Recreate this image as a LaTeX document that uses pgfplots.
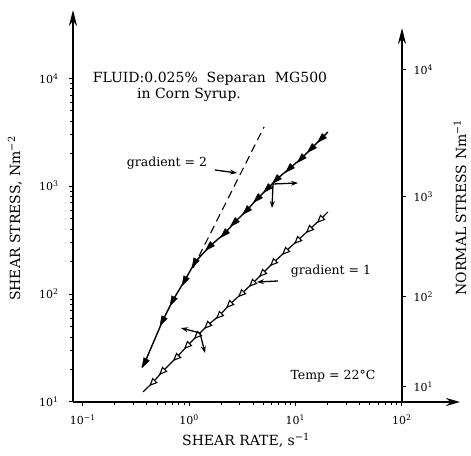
\documentclass[border=0pt]{standalone}
\usepackage{fontspec}
\setmainfont{DejaVu Serif}
\usepackage{pgfplots}
\pgfplotsset{compat=1.18}
\usetikzlibrary{arrows.meta}
\begin{document}
\begin{tikzpicture}
\path[use as bounding box] (-73pt,-53pt) rectangle (398pt,402pt);
\begin{axis}[
  at={(0,0)}, anchor=south west,
  scale only axis, width=387pt, height=392pt,
  xmode=log, ymode=log,
  xmin=0.0809, xmax=353.2,
  ymin=10, ymax=42950,
  axis lines=left,
  axis line style={line width=2pt},
  x axis line style={-{Stealth[length=14pt,width=8pt]}},
  y axis line style={-{Stealth[length=16pt,width=8pt]}},
  xtick={0.1,1,10,100},
  xticklabels={10\textsuperscript{−1},10\textsuperscript{0},10\textsuperscript{1},10\textsuperscript{2}},
  ytick={10,100,1000,10000},
  yticklabels={10\textsuperscript{1},10\textsuperscript{2},10\textsuperscript{3},10\textsuperscript{4}},
  minor xtick={}, minor ytick={},
  tick align=outside, major tick length=4pt,
  tick style={line width=1pt, black},
  ticklabel style={font=\fontsize{11}{13}\selectfont},
  xticklabel style={yshift=-5pt},
  yticklabel style={xshift=-7pt},
  xlabel={SHEAR RATE, s\textsuperscript{−1}},
  ylabel={SHEAR STRESS, Nm\textsuperscript{−2}},
  every axis x label/.style={at={(axis description cs:0.447,-0.097)}, anchor=center, font=\fontsize{14}{16}\selectfont},
  every axis y label/.style={at={(axis description cs:-0.150,0.468)}, anchor=center, rotate=90, font=\fontsize{14}{16}\selectfont},
  clip=false,
]
% normal stress (filled) line
\addplot[black, line width=1.4pt] coordinates {
 (0.360,21.1) (0.385,23.5) (0.568,57.5) (0.706,88.1) (0.915,135) (1.137,198)
 (1.573,279) (2.18,368) (2.70,466) (3.51,601) (4.45,778) (5.53,962)
 (6.71,1166) (8.90,1476) (11.5,1825) (14.3,2259) (17.8,2799) (20.2,3177)};
\addplot[only marks, mark=triangle*, mark size=3.6pt,
  mark options={rotate=153, yscale=1.8, fill=black, draw=black}] coordinates {
 (0.385,23.5) (0.568,57.5) (0.706,88.1) (0.915,135) (1.137,198)};
\addplot[only marks, mark=triangle*, mark size=3.6pt,
  mark options={rotate=135, yscale=1.8, fill=black, draw=black}] coordinates {
 (1.573,279) (2.18,368) (2.70,466) (3.51,601) (4.45,778) (5.53,962)
 (6.71,1166) (8.90,1476) (11.5,1825) (14.3,2259) (17.8,2799)};
% shear stress (open) line
\addplot[black, line width=1.2pt] coordinates {
 (0.368,12.4) (0.460,15.3) (0.568,19.4) (0.770,26.1) (0.976,33.7) (1.21,41.8)
 (1.51,51.8) (1.95,64.0) (2.43,80.9) (3.15,102) (3.99,127) (4.96,157)
 (6.29,198) (8.16,251) (10.6,317) (13.7,401) (17.4,497) (20.2,577)};
\addplot[only marks, mark=triangle*, mark size=3.3pt,
  mark options={rotate=135, yscale=1.3, fill=white, draw=black, line width=1.1pt}] coordinates {
 (0.460,15.3) (0.568,19.4) (0.770,26.1) (0.976,33.7) (1.21,41.8)
 (1.51,51.8) (1.95,64.0) (2.43,80.9) (3.15,102) (3.99,127) (4.96,157)
 (6.29,198) (8.16,251) (10.6,317) (13.7,401) (17.4,497)};
% gradient 2 reference line
\addplot[black, line width=1.1pt, dash pattern=on 8pt off 5pt] coordinates {
 (1.09,175) (5.07,3540)};
\end{axis}
\begin{axis}[
  at={(0,0)}, anchor=south west,
  scale only axis, width=329pt, height=374pt,
  xmin=0, xmax=1, ymin=0, ymax=374,
  axis x line=none, axis y line*=right,
  y axis line style={line width=2pt, -{Stealth[length=16pt,width=8pt]}},
  ytick={15,105,205,332},
  yticklabels={10\textsuperscript{1},10\textsuperscript{2},10\textsuperscript{3},10\textsuperscript{4}},
  tick align=outside, major tick length=4pt,
  tick style={line width=1pt, black},
  ticklabel style={font=\fontsize{11}{13}\selectfont},
  yticklabel style={xshift=4pt},
  ylabel={NORMAL STRESS Nm\textsuperscript{−1}},
  every axis y label/.style={at={(axis description cs:1.176,0.52)}, anchor=center, rotate=90, font=\fontsize{14}{16}\selectfont},
]
\addplot[draw=none] coordinates {(0.5,100)};
\end{axis}
% annotations
\node[anchor=base, font=\fontsize{14}{14}\selectfont] at (137pt,319pt) {FLUID:0.025\%\ \ Separan\ \ MG500};
\node[anchor=base, font=\fontsize{14}{14}\selectfont] at (116pt,303pt) {in Corn Syrup.};
\node[anchor=base, font=\fontsize{12.5}{13}\selectfont] at (94pt,235pt) {gradient = 2};
\node[anchor=base, font=\fontsize{12.5}{13}\selectfont] at (258pt,127pt) {gradient = 1};
\node[anchor=base, font=\fontsize{12.5}{13}\selectfont] at (260pt,22pt) {Temp = 22°C};
\tikzset{ann/.style={line width=1.3pt, -{Stealth[length=7pt,width=5pt]}}}
\draw[ann] (142pt,232pt) -- (164pt,229pt);
\draw[ann] (205pt,121pt) -- (184pt,120pt);
\draw[ann] (200pt,218pt) -- (225pt,219pt);
\draw[ann] (200pt,218pt) -- (199pt,194pt);
\draw[ann] (127pt,69pt) -- (108pt,74pt);
\draw[ann] (127pt,69pt) -- (132pt,49pt);
\end{tikzpicture}
\end{document}
